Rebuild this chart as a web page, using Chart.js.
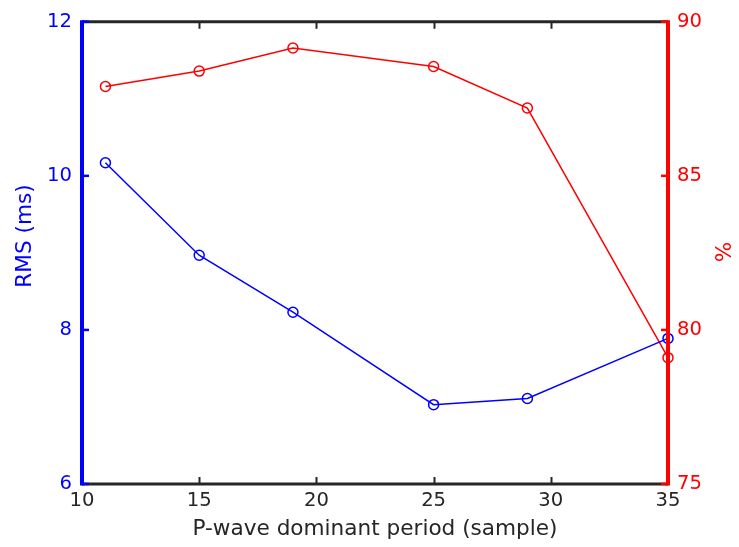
<!DOCTYPE html>
<html><head><meta charset="utf-8">
<script src="https://cdn.jsdelivr.net/npm/chart.js@4.4.1/dist/chart.umd.min.js"></script>
<style>html,body{margin:0;padding:0;background:#fff}#wrap{width:739px;height:547px}</style>
</head><body><div id="wrap"><canvas id="c" width="739" height="547"></canvas></div>
<script>
const periods = [11, 15, 19, 25, 29, 35];
const rmsValues = [10.17, 8.97, 8.23, 7.03, 7.11, 7.89];
const pctValues = [87.9, 88.4, 89.15, 88.55, 87.2, 79.1];
const xTicks = [10, 15, 20, 25, 30, 35];
const leftTicks = [6, 8, 10, 12];
const rightTicks = [75, 80, 85, 90];
const BLUE = '#0000ff', RED = '#ff0000', DARK = '#262626';
const FONT = 'DejaVu Sans';
const TICK_SIZE = 19.6, LABEL_SIZE = 21.6;

const axesPlugin = {
  id: 'matlabAxes',
  afterDraw(chart) {
    const ctx = chart.ctx, a = chart.chartArea;
    const x = chart.scales.x, yl = chart.scales.y, yr = chart.scales.y2;
    const T = 7;
    ctx.save();
    ctx.lineCap = 'butt';
    ctx.strokeStyle = DARK; ctx.lineWidth = 2;
    xTicks.forEach(v => {
      const px = Math.round(x.getPixelForValue(v)) + 0.5;
      ctx.beginPath(); ctx.moveTo(px, a.bottom); ctx.lineTo(px, a.bottom - T); ctx.stroke();
      ctx.beginPath(); ctx.moveTo(px, a.top); ctx.lineTo(px, a.top + T); ctx.stroke();
    });
    ctx.lineWidth = 3;
    ctx.beginPath(); ctx.moveTo(a.left, a.top); ctx.lineTo(a.right, a.top); ctx.stroke();
    ctx.beginPath(); ctx.moveTo(a.left, a.bottom); ctx.lineTo(a.right, a.bottom); ctx.stroke();
    ctx.strokeStyle = BLUE; ctx.lineWidth = 2.5;
    leftTicks.forEach(v => {
      const py = yl.getPixelForValue(v);
      ctx.beginPath(); ctx.moveTo(a.left, py); ctx.lineTo(a.left + T, py); ctx.stroke();
    });
    ctx.lineWidth = 4;
    ctx.beginPath(); ctx.moveTo(a.left, a.top - 1.5); ctx.lineTo(a.left, a.bottom + 1.5); ctx.stroke();
    ctx.strokeStyle = RED; ctx.lineWidth = 2.5;
    rightTicks.forEach(v => {
      const py = yr.getPixelForValue(v);
      ctx.beginPath(); ctx.moveTo(a.right, py); ctx.lineTo(a.right - T, py); ctx.stroke();
    });
    ctx.lineWidth = 4;
    ctx.beginPath(); ctx.moveTo(a.right, a.top - 1.5); ctx.lineTo(a.right, a.bottom + 1.5); ctx.stroke();
    // y-axis titles
    ctx.font = LABEL_SIZE + 'px "' + FONT + '"';
    ctx.textAlign = 'center'; ctx.textBaseline = 'middle';
    ctx.fillStyle = BLUE;
    ctx.save(); ctx.translate(25, 236); ctx.rotate(-Math.PI / 2); ctx.fillText('RMS (ms)', 0, 0); ctx.restore();
    ctx.fillStyle = RED;
    ctx.save(); ctx.translate(725, 252); ctx.rotate(-Math.PI / 2); ctx.fillText('%', 0, 0); ctx.restore();
    ctx.restore();
  }
};

new Chart(document.getElementById('c'), {
  type: 'line',
  data: {
    datasets: [
      { label: 'RMS', data: periods.map((p, i) => ({x: p, y: rmsValues[i]})), yAxisID: 'y',
        borderColor: BLUE, backgroundColor: 'rgba(0,0,0,0)', borderWidth: 1.5,
        pointRadius: 5, pointBorderWidth: 1.5, pointBorderColor: BLUE, pointBackgroundColor: 'rgba(0,0,0,0)',
        tension: 0, clip: false },
      { label: '%', data: periods.map((p, i) => ({x: p, y: pctValues[i]})), yAxisID: 'y2',
        borderColor: RED, backgroundColor: 'rgba(0,0,0,0)', borderWidth: 1.5,
        pointRadius: 5, pointBorderWidth: 1.5, pointBorderColor: RED, pointBackgroundColor: 'rgba(0,0,0,0)',
        tension: 0, clip: false }
    ]
  },
  options: {
    responsive: false, animation: false, devicePixelRatio: 1,
    layout: { padding: { top: 18, left: 0, right: 0, bottom: 0 } },
    plugins: { legend: { display: false }, tooltip: { enabled: false } },
    scales: {
      x: {
        type: 'linear', min: 10, max: 35,
        afterFit: s => { s.height = 63; },
        afterBuildTicks: s => { s.ticks = xTicks.map(v => ({value: v})); },
        grid: { display: false, drawTicks: false }, border: { display: false },
        ticks: { color: DARK, font: { family: FONT, size: TICK_SIZE }, padding: 5, maxRotation: 0 },
        title: { display: true, text: 'P-wave dominant period (sample)', color: DARK,
                 font: { family: FONT, size: LABEL_SIZE }, padding: { top: 0, bottom: 5 } }
      },
      y: {
        position: 'left', min: 6, max: 12,
        afterFit: s => { s.width = 82; },
        afterBuildTicks: s => { s.ticks = leftTicks.map(v => ({value: v})); },
        grid: { display: false, drawTicks: false }, border: { display: false },
        ticks: { color: BLUE, font: { family: FONT, size: TICK_SIZE }, padding: 10 },
        title: { display: false }
      },
      y2: {
        position: 'right', min: 75, max: 90,
        afterFit: s => { s.width = 71; },
        afterBuildTicks: s => { s.ticks = rightTicks.map(v => ({value: v})); },
        grid: { display: false, drawTicks: false }, border: { display: false },
        ticks: { color: RED, font: { family: FONT, size: TICK_SIZE }, padding: 9 },
        title: { display: false }
      }
    }
  },
  plugins: [axesPlugin]
});
</script>
</body></html>
